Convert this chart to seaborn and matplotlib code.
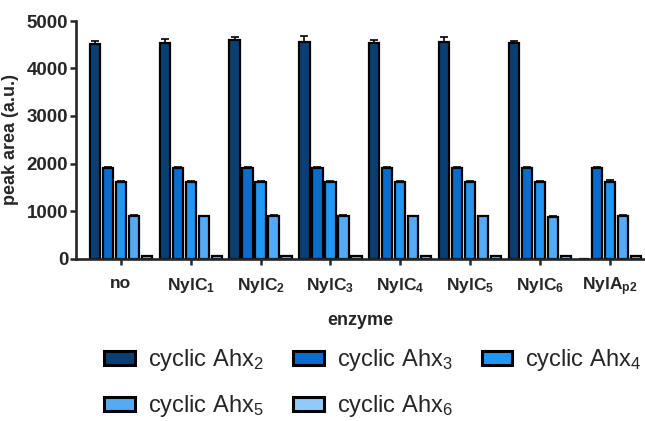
import numpy as np
import pandas as pd
import matplotlib
matplotlib.use("Agg")
import matplotlib.pyplot as plt
import seaborn as sns

enzymes = ["no", "NylC1", "NylC2", "NylC3", "NylC4", "NylC5", "NylC6", "NylAp2"]
enzyme_labels = ["no", r"NylC$_{1}$", r"NylC$_{2}$", r"NylC$_{3}$", r"NylC$_{4}$",
                 r"NylC$_{5}$", r"NylC$_{6}$", r"NylA$_{\mathbf{p2}}$"]
species = ["cyclic Ahx2", "cyclic Ahx3", "cyclic Ahx4", "cyclic Ahx5", "cyclic Ahx6"]
species_labels = [r"cyclic Ahx$_{2}$", r"cyclic Ahx$_{3}$", r"cyclic Ahx$_{4}$",
                  r"cyclic Ahx$_{5}$", r"cyclic Ahx$_{6}$"]

ahx2 = [4522, 4543, 4594, 4564, 4543, 4564, 4530, 0]
ahx3 = [1905, 1905, 1900, 1905, 1905, 1905, 1910, 1905]
ahx4 = [1610, 1608, 1610, 1612, 1608, 1608, 1612, 1615]
ahx5 = [888, 885, 888, 888, 885, 885, 878, 888]
ahx6 = [45, 45, 45, 45, 45, 45, 45, 45]

err2 = [50, 70, 75, 115, 50, 105, 55, 0]
err3 = [20, 20, 20, 20, 20, 20, 20, 20]
err4 = [25, 25, 25, 25, 25, 25, 25, 40]
err5 = [20, 20, 20, 20, 20, 20, 20, 20]
err6 = [8, 8, 8, 8, 8, 8, 8, 8]

colors = ["#0a3f73", "#0a6ccc", "#2196f3", "#55aaf5", "#8fcaf8"]

values = [ahx2, ahx3, ahx4, ahx5, ahx6]
errors = [err2, err3, err4, err5, err6]

rows = []
for s, vals, errs in zip(species, values, errors):
    for e, v, er in zip(enzymes, vals, errs):
        rows.append({"enzyme": e, "species": s, "value": v, "err": er})
df = pd.DataFrame(rows)

sns.set_style("ticks")
plt.rcParams["font.family"] = ["Liberation Sans", "DejaVu Sans"]
plt.rcParams["mathtext.fontset"] = "custom"
plt.rcParams["mathtext.rm"] = "Liberation Sans"
plt.rcParams["mathtext.it"] = "Liberation Sans:italic"
plt.rcParams["mathtext.bf"] = "Liberation Sans:bold"
plt.rcParams["mathtext.default"] = "regular"

fig = plt.figure(figsize=(6.45, 4.21), dpi=100)
ax = fig.add_axes([76 / 645, 1 - 258.5 / 421, (645 - 76) / 645, (258.5 - 21) / 421])

sns.barplot(data=df, x="enzyme", y="value", hue="species", order=enzymes,
            hue_order=species, palette=colors, saturation=1, width=0.93, gap=0.22,
            edgecolor="black", linewidth=1.6, errorbar=None, ax=ax, legend=True)

# error bars (upper only), matched to the seaborn bars
for cont, s in zip(ax.containers, species):
    sub = df[df["species"] == s].set_index("enzyme").loc[enzymes]
    for bar, (v, er) in zip(cont, zip(sub["value"], sub["err"])):
        if v <= 0:
            continue
        xc = bar.get_x() + bar.get_width() / 2
        ax.errorbar([xc], [v], yerr=[[0], [er]], fmt="none", ecolor="black",
                    elinewidth=1.2, capsize=3, capthick=1.2, zorder=1)

ax.set_ylim(0, 5000)
ax.set_xlim(-0.64, 7.5)
ax.set_yticks([0, 1000, 2000, 3000, 4000, 5000])
ax.set_yticklabels(["0", "1000", "2000", "3000", "4000", "5000"],
                   fontsize=13.5, fontweight="bold")
ax.set_xticks(range(len(enzymes)))
ax.set_xticklabels(enzyme_labels, fontsize=12.5, fontweight="bold")
ax.tick_params(axis="both", length=4.5, width=1.8, direction="out", pad=1)
ax.tick_params(axis="x", pad=8)
for side in ["left", "bottom"]:
    ax.spines[side].set_linewidth(1.9)
for side in ["top", "right"]:
    ax.spines[side].set_visible(False)

ax.set_ylabel("peak area (a.u.)", fontsize=13, fontweight="bold", labelpad=6)
ax.set_xlabel("enzyme", fontsize=13, fontweight="bold", labelpad=10)

handles, _ = ax.get_legend_handles_labels()
ax.get_legend().remove()
for h in handles:
    h.set_edgecolor("black")
    h.set_linewidth(2.2)
# reorder so that the column-major legend reads row by row
order = [0, 3, 1, 4, 2]
leg = fig.legend([handles[i] for i in order], [species_labels[i] for i in order],
                 loc="upper left",
                 bbox_to_anchor=(104 / 645, 1 - 347 / 421), ncol=3,
                 frameon=False, fontsize=17, handlelength=1.3, handleheight=0.55,
                 handletextpad=0.55, columnspacing=1.25, labelspacing=0.85,
                 borderaxespad=0, borderpad=0)

fig.savefig("out.png", dpi=100)
